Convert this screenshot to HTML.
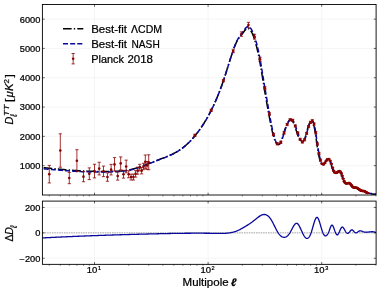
<!DOCTYPE html>
<html lang="en"><head><meta charset="utf-8"><title>CMB TT power spectrum</title>
<style>html,body{margin:0;padding:0;background:#fff;overflow:hidden}svg{display:block;will-change:transform}text{font-family:"Liberation Sans", sans-serif;fill:#000;stroke:#000;stroke-width:0.22px}</style></head><body>
<svg width="380" height="292" viewBox="0 0 380 292">
<rect x="0" y="0" width="380" height="292" fill="#fff"/>
<defs>
<clipPath id="ct"><rect x="42.40" y="4.45" width="333.70" height="190.55"/></clipPath>
<clipPath id="cb"><rect x="42.40" y="201.10" width="333.70" height="63.25"/></clipPath>
</defs>
<path d="M94.50 4.45 V195.00 M94.50 201.10 V264.35 M208.10 4.45 V195.00 M208.10 201.10 V264.35 M321.70 4.45 V195.00 M321.70 201.10 V264.35 M42.40 165.68 H376.10 M42.40 136.37 H376.10 M42.40 107.05 H376.10 M42.40 77.74 H376.10 M42.40 48.42 H376.10 M42.40 19.11 H376.10 M42.40 258.25 H376.10 M42.40 232.85 H376.10 M42.40 207.45 H376.10" fill="none" stroke="#eeeeee" stroke-width="0.6"/>
<path d="M42.40 232.85 H376.10" fill="none" stroke="#8e8e8e" stroke-width="0.8" stroke-dasharray="1.45 0.95"/>
<path d="M15.10 239.45 L15.46 239.43 L15.82 239.41 L16.18 239.38 L16.54 239.36 L16.90 239.34 L17.27 239.32 L17.63 239.30 L17.99 239.28 L18.35 239.26 L18.71 239.23 L19.07 239.21 L19.43 239.19 L19.79 239.17 L20.16 239.15 L20.52 239.13 L20.88 239.11 L21.24 239.09 L21.60 239.07 L21.96 239.05 L22.32 239.03 L22.69 239.00 L23.05 238.98 L23.41 238.96 L23.77 238.94 L24.13 238.92 L24.49 238.90 L24.85 238.88 L25.22 238.86 L25.58 238.84 L25.94 238.82 L26.30 238.80 L26.66 238.78 L27.02 238.76 L27.38 238.74 L27.74 238.72 L28.11 238.70 L28.47 238.68 L28.83 238.66 L29.19 238.64 L29.55 238.62 L29.91 238.60 L30.27 238.58 L30.64 238.56 L31.00 238.54 L31.36 238.52 L31.72 238.50 L32.08 238.48 L32.44 238.46 L32.80 238.44 L33.17 238.42 L33.53 238.40 L33.89 238.38 L34.25 238.36 L34.61 238.34 L34.97 238.32 L35.33 238.30 L35.69 238.28 L36.06 238.26 L36.42 238.24 L36.78 238.23 L37.14 238.21 L37.50 238.19 L37.86 238.17 L38.22 238.15 L38.59 238.13 L38.95 238.11 L39.31 238.09 L39.67 238.07 L40.03 238.05 L40.39 238.03 L40.75 238.02 L41.12 238.00 L41.48 237.98 L41.84 237.96 L42.20 237.94 L42.56 237.92 L42.92 237.90 L43.28 237.88 L43.64 237.87 L44.01 237.85 L44.37 237.83 L44.73 237.81 L45.09 237.79 L45.45 237.77 L45.81 237.76 L46.17 237.74 L46.54 237.72 L46.90 237.70 L47.26 237.68 L47.62 237.66 L47.98 237.65 L48.34 237.63 L48.70 237.61 L49.07 237.59 L49.43 237.57 L49.79 237.56 L50.15 237.54 L50.51 237.52 L50.87 237.50 L51.23 237.48 L51.59 237.47 L51.96 237.45 L52.32 237.43 L52.68 237.41 L53.04 237.40 L53.40 237.38 L53.76 237.36 L54.12 237.34 L54.49 237.33 L54.85 237.31 L55.21 237.29 L55.57 237.27 L55.93 237.26 L56.29 237.24 L56.65 237.22 L57.02 237.21 L57.38 237.19 L57.74 237.17 L58.10 237.15 L58.46 237.14 L58.82 237.12 L59.18 237.10 L59.54 237.09 L59.91 237.07 L60.27 237.05 L60.63 237.04 L60.99 237.02 L61.35 237.00 L61.71 236.99 L62.07 236.97 L62.44 236.95 L62.80 236.94 L63.16 236.92 L63.52 236.90 L63.88 236.89 L64.24 236.87 L64.60 236.85 L64.97 236.84 L65.33 236.82 L65.69 236.80 L66.05 236.79 L66.41 236.77 L66.77 236.76 L67.13 236.74 L67.49 236.72 L67.86 236.71 L68.22 236.69 L68.58 236.68 L68.94 236.66 L69.30 236.64 L69.66 236.63 L70.02 236.61 L70.39 236.60 L70.75 236.58 L71.11 236.56 L71.47 236.55 L71.83 236.53 L72.19 236.52 L72.55 236.50 L72.92 236.49 L73.28 236.47 L73.64 236.46 L74.00 236.44 L74.36 236.42 L74.72 236.41 L75.08 236.39 L75.44 236.38 L75.81 236.36 L76.17 236.35 L76.53 236.33 L76.89 236.32 L77.25 236.30 L77.61 236.29 L77.97 236.27 L78.34 236.26 L78.70 236.24 L79.06 236.23 L79.42 236.21 L79.78 236.20 L80.14 236.18 L80.50 236.17 L80.87 236.15 L81.23 236.14 L81.59 236.12 L81.95 236.11 L82.31 236.10 L82.67 236.08 L83.03 236.07 L83.39 236.05 L83.76 236.04 L84.12 236.02 L84.48 236.01 L84.84 235.99 L85.20 235.98 L85.56 235.97 L85.92 235.95 L86.29 235.94 L86.65 235.92 L87.01 235.91 L87.37 235.90 L87.73 235.88 L88.09 235.87 L88.45 235.85 L88.82 235.84 L89.18 235.83 L89.54 235.81 L89.90 235.80 L90.26 235.78 L90.62 235.77 L90.98 235.76 L91.34 235.74 L91.71 235.73 L92.07 235.72 L92.43 235.70 L92.79 235.69 L93.15 235.68 L93.51 235.66 L93.87 235.65 L94.24 235.64 L94.60 235.62 L94.96 235.61 L95.32 235.60 L95.68 235.58 L96.04 235.57 L96.40 235.56 L96.77 235.54 L97.13 235.53 L97.49 235.52 L97.85 235.50 L98.21 235.49 L98.57 235.48 L98.93 235.47 L99.29 235.45 L99.66 235.44 L100.02 235.43 L100.38 235.41 L100.74 235.40 L101.10 235.39 L101.46 235.38 L101.82 235.36 L102.19 235.35 L102.55 235.34 L102.91 235.33 L103.27 235.31 L103.63 235.30 L103.99 235.29 L104.35 235.28 L104.72 235.26 L105.08 235.25 L105.44 235.24 L105.80 235.23 L106.16 235.21 L106.52 235.20 L106.88 235.19 L107.24 235.18 L107.61 235.17 L107.97 235.15 L108.33 235.14 L108.69 235.13 L109.05 235.12 L109.41 235.11 L109.77 235.09 L110.14 235.08 L110.50 235.07 L110.86 235.06 L111.22 235.05 L111.58 235.04 L111.94 235.02 L112.30 235.01 L112.67 235.00 L113.03 234.99 L113.39 234.98 L113.75 234.97 L114.11 234.95 L114.47 234.94 L114.83 234.93 L115.19 234.92 L115.56 234.91 L115.92 234.90 L116.28 234.89 L116.64 234.87 L117.00 234.86 L117.36 234.85 L117.72 234.84 L118.09 234.83 L118.45 234.82 L118.81 234.81 L119.17 234.80 L119.53 234.79 L119.89 234.77 L120.25 234.76 L120.62 234.75 L120.98 234.74 L121.34 234.73 L121.70 234.72 L122.06 234.71 L122.42 234.70 L122.78 234.69 L123.14 234.68 L123.51 234.67 L123.87 234.65 L124.23 234.64 L124.59 234.63 L124.95 234.62 L125.31 234.61 L125.67 234.60 L126.04 234.59 L126.40 234.58 L126.76 234.57 L127.12 234.56 L127.48 234.55 L127.84 234.54 L128.20 234.53 L128.57 234.52 L128.93 234.51 L129.29 234.50 L129.65 234.49 L130.01 234.48 L130.37 234.47 L130.73 234.46 L131.09 234.45 L131.46 234.44 L131.82 234.43 L132.18 234.42 L132.54 234.41 L132.90 234.40 L133.26 234.38 L133.62 234.37 L133.99 234.36 L134.35 234.35 L134.71 234.34 L135.07 234.33 L135.43 234.33 L135.79 234.32 L136.15 234.31 L136.52 234.30 L136.88 234.29 L137.24 234.28 L137.60 234.27 L137.96 234.26 L138.32 234.25 L138.68 234.24 L139.04 234.23 L139.41 234.22 L139.77 234.21 L140.13 234.20 L140.49 234.19 L140.85 234.18 L141.21 234.17 L141.57 234.16 L141.94 234.15 L142.30 234.14 L142.66 234.13 L143.02 234.12 L143.38 234.11 L143.74 234.10 L144.10 234.09 L144.47 234.08 L144.83 234.07 L145.19 234.07 L145.55 234.06 L145.91 234.05 L146.27 234.04 L146.63 234.03 L146.99 234.02 L147.36 234.01 L147.72 234.00 L148.08 233.99 L148.44 233.98 L148.80 233.97 L149.16 233.96 L149.52 233.95 L149.89 233.95 L150.25 233.94 L150.61 233.93 L150.97 233.92 L151.33 233.91 L151.69 233.90 L152.05 233.89 L152.42 233.88 L152.78 233.87 L153.14 233.86 L153.50 233.86 L153.86 233.85 L154.22 233.84 L154.58 233.83 L154.95 233.82 L155.31 233.81 L155.67 233.80 L156.03 233.79 L156.39 233.79 L156.75 233.78 L157.11 233.77 L157.47 233.76 L157.84 233.75 L158.20 233.74 L158.56 233.74 L158.92 233.73 L159.28 233.72 L159.64 233.71 L160.00 233.70 L160.37 233.69 L160.73 233.69 L161.09 233.68 L161.45 233.67 L161.81 233.66 L162.17 233.65 L162.53 233.65 L162.90 233.64 L163.26 233.63 L163.62 233.62 L163.98 233.61 L164.34 233.61 L164.70 233.60 L165.06 233.59 L165.42 233.58 L165.79 233.58 L166.15 233.57 L166.51 233.56 L166.87 233.55 L167.23 233.55 L167.59 233.54 L167.95 233.53 L168.32 233.53 L168.68 233.52 L169.04 233.51 L169.40 233.51 L169.76 233.50 L170.12 233.49 L170.48 233.48 L170.85 233.48 L171.21 233.47 L171.57 233.46 L171.93 233.46 L172.29 233.45 L172.65 233.45 L173.01 233.44 L173.37 233.43 L173.74 233.43 L174.10 233.42 L174.46 233.41 L174.82 233.41 L175.18 233.40 L175.54 233.40 L175.90 233.39 L176.27 233.39 L176.63 233.38 L176.99 233.37 L177.35 233.37 L177.71 233.36 L178.07 233.36 L178.43 233.35 L178.80 233.35 L179.16 233.34 L179.52 233.34 L179.88 233.33 L180.24 233.33 L180.60 233.32 L180.96 233.32 L181.32 233.31 L181.69 233.31 L182.05 233.31 L182.41 233.30 L182.77 233.30 L183.13 233.29 L183.49 233.29 L183.85 233.28 L184.22 233.28 L184.58 233.28 L184.94 233.27 L185.30 233.27 L185.66 233.27 L186.02 233.26 L186.38 233.26 L186.75 233.26 L187.11 233.25 L187.47 233.25 L187.83 233.25 L188.19 233.24 L188.55 233.24 L188.91 233.24 L189.27 233.24 L189.64 233.23 L190.00 233.23 L190.36 233.23 L190.72 233.23 L191.08 233.22 L191.44 233.22 L191.80 233.22 L192.17 233.22 L192.53 233.22 L192.89 233.22 L193.25 233.21 L193.61 233.21 L193.97 233.21 L194.33 233.21 L194.70 233.21 L195.06 233.21 L195.42 233.21 L195.78 233.21 L196.14 233.21 L196.50 233.21 L196.86 233.21 L197.22 233.20 L197.59 233.20 L197.95 233.20 L198.31 233.20 L198.67 233.21 L199.03 233.21 L199.39 233.21 L199.75 233.21 L200.12 233.21 L200.48 233.21 L200.84 233.21 L201.20 233.21 L201.56 233.21 L201.92 233.21 L202.28 233.21 L202.65 233.22 L203.01 233.22 L203.37 233.22 L203.73 233.22 L204.09 233.22 L204.45 233.23 L204.81 233.23 L205.17 233.23 L205.54 233.23 L205.90 233.24 L206.26 233.24 L206.62 233.24 L206.98 233.25 L207.34 233.25 L207.70 233.25 L208.07 233.26 L208.43 233.26 L208.79 233.26 L209.15 233.27 L209.51 233.27 L209.87 233.28 L210.23 233.28 L210.60 233.29 L210.96 233.29 L211.32 233.30 L211.68 233.30 L212.04 233.31 L212.40 233.31 L212.76 233.32 L213.12 233.32 L213.49 233.33 L213.85 233.34 L214.21 233.34 L214.57 233.35 L214.93 233.36 L215.29 233.36 L215.65 233.37 L216.02 233.38 L216.38 233.38 L216.74 233.39 L217.10 233.40 L217.46 233.40 L217.82 233.41 L218.18 233.41 L218.55 233.42 L218.91 233.42 L219.27 233.43 L219.63 233.43 L219.99 233.43 L220.35 233.43 L220.71 233.43 L221.07 233.43 L221.44 233.43 L221.80 233.42 L222.16 233.42 L222.52 233.41 L222.88 233.40 L223.24 233.39 L223.60 233.38 L223.97 233.37 L224.33 233.35 L224.69 233.33 L225.05 233.31 L225.41 233.29 L225.77 233.27 L226.13 233.24 L226.50 233.21 L226.86 233.18 L227.22 233.14 L227.58 233.11 L227.94 233.07 L228.30 233.03 L228.66 232.98 L229.02 232.93 L229.39 232.88 L229.75 232.83 L230.11 232.77 L230.47 232.71 L230.83 232.64 L231.19 232.58 L231.55 232.50 L231.92 232.43 L232.28 232.35 L232.64 232.26 L233.00 232.18 L233.36 232.08 L233.72 231.99 L234.08 231.88 L234.45 231.78 L234.81 231.66 L235.17 231.55 L235.53 231.43 L235.89 231.30 L236.25 231.17 L236.61 231.03 L236.97 230.88 L237.34 230.73 L237.70 230.58 L238.06 230.42 L238.42 230.26 L238.78 230.09 L239.14 229.92 L239.50 229.74 L239.87 229.56 L240.23 229.37 L240.59 229.18 L240.95 228.99 L241.31 228.80 L241.67 228.60 L242.03 228.40 L242.40 228.19 L242.76 227.99 L243.12 227.78 L243.48 227.57 L243.84 227.36 L244.20 227.14 L244.56 226.93 L244.92 226.71 L245.29 226.49 L245.65 226.27 L246.01 226.05 L246.37 225.83 L246.73 225.60 L247.09 225.37 L247.45 225.14 L247.82 224.91 L248.18 224.68 L248.54 224.44 L248.90 224.20 L249.26 223.96 L249.62 223.72 L249.98 223.47 L250.35 223.23 L250.71 222.97 L251.07 222.72 L251.43 222.46 L251.79 222.21 L252.15 221.94 L252.51 221.68 L252.87 221.41 L253.24 221.14 L253.60 220.86 L253.96 220.59 L254.32 220.31 L254.68 220.02 L255.04 219.73 L255.40 219.44 L255.77 219.15 L256.13 218.86 L256.49 218.56 L256.85 218.27 L257.21 217.98 L257.57 217.70 L257.93 217.41 L258.30 217.14 L258.66 216.87 L259.02 216.61 L259.38 216.36 L259.74 216.12 L260.10 215.89 L260.46 215.67 L260.82 215.47 L261.19 215.29 L261.55 215.12 L261.91 214.96 L262.27 214.83 L262.63 214.72 L262.99 214.62 L263.35 214.55 L263.72 214.51 L264.08 214.48 L264.44 214.48 L264.80 214.51 L265.16 214.56 L265.52 214.64 L265.88 214.74 L266.25 214.88 L266.61 215.04 L266.97 215.23 L267.33 215.45 L267.69 215.70 L268.05 215.98 L268.41 216.29 L268.77 216.63 L269.14 217.01 L269.50 217.42 L269.86 217.86 L270.22 218.34 L270.58 218.85 L270.94 219.40 L271.30 219.98 L271.67 220.59 L272.03 221.23 L272.39 221.89 L272.75 222.57 L273.11 223.26 L273.47 223.97 L273.83 224.69 L274.20 225.41 L274.56 226.14 L274.92 226.86 L275.28 227.58 L275.64 228.30 L276.00 229.00 L276.36 229.69 L276.72 230.36 L277.09 231.01 L277.45 231.64 L277.81 232.24 L278.17 232.80 L278.53 233.34 L278.89 233.84 L279.25 234.31 L279.62 234.74 L279.98 235.14 L280.34 235.50 L280.70 235.84 L281.06 236.13 L281.42 236.40 L281.78 236.63 L282.15 236.83 L282.51 236.99 L282.87 237.12 L283.23 237.22 L283.59 237.29 L283.95 237.32 L284.31 237.32 L284.67 237.29 L285.04 237.22 L285.40 237.12 L285.76 236.99 L286.12 236.82 L286.48 236.62 L286.84 236.38 L287.20 236.11 L287.57 235.80 L287.93 235.45 L288.29 235.06 L288.65 234.64 L289.01 234.17 L289.37 233.66 L289.73 233.12 L290.10 232.53 L290.46 231.90 L290.82 231.25 L291.18 230.57 L291.54 229.88 L291.90 229.18 L292.26 228.49 L292.62 227.80 L292.99 227.14 L293.35 226.50 L293.71 225.90 L294.07 225.34 L294.43 224.83 L294.79 224.38 L295.15 223.99 L295.52 223.68 L295.88 223.45 L296.24 223.32 L296.60 223.28 L296.96 223.34 L297.32 223.52 L297.68 223.80 L298.05 224.18 L298.41 224.64 L298.77 225.17 L299.13 225.77 L299.49 226.42 L299.85 227.13 L300.21 227.87 L300.57 228.64 L300.94 229.43 L301.30 230.23 L301.66 231.03 L302.02 231.82 L302.38 232.60 L302.74 233.35 L303.10 234.07 L303.47 234.75 L303.83 235.39 L304.19 235.99 L304.55 236.53 L304.91 237.01 L305.27 237.44 L305.63 237.79 L306.00 238.08 L306.36 238.29 L306.72 238.42 L307.08 238.47 L307.44 238.42 L307.80 238.29 L308.16 238.07 L308.52 237.76 L308.89 237.36 L309.25 236.87 L309.61 236.28 L309.97 235.60 L310.33 234.82 L310.69 233.95 L311.05 232.98 L311.42 231.91 L311.78 230.77 L312.14 229.56 L312.50 228.31 L312.86 227.04 L313.22 225.76 L313.58 224.51 L313.95 223.30 L314.31 222.14 L314.67 221.06 L315.03 220.08 L315.39 219.22 L315.75 218.50 L316.11 217.93 L316.47 217.55 L316.84 217.36 L317.20 217.39 L317.56 217.64 L317.92 218.10 L318.28 218.73 L318.64 219.53 L319.00 220.46 L319.37 221.50 L319.73 222.63 L320.09 223.83 L320.45 225.07 L320.81 226.33 L321.17 227.58 L321.53 228.82 L321.90 230.00 L322.26 231.12 L322.62 232.13 L322.98 233.04 L323.34 233.81 L323.70 234.45 L324.06 234.97 L324.42 235.36 L324.79 235.64 L325.15 235.80 L325.51 235.86 L325.87 235.81 L326.23 235.67 L326.59 235.42 L326.95 235.08 L327.32 234.64 L327.68 234.10 L328.04 233.47 L328.40 232.74 L328.76 231.92 L329.12 231.01 L329.48 230.02 L329.85 229.00 L330.21 228.01 L330.57 227.09 L330.93 226.28 L331.29 225.65 L331.65 225.24 L332.01 225.10 L332.37 225.26 L332.74 225.69 L333.10 226.33 L333.46 227.15 L333.82 228.08 L334.18 229.09 L334.54 230.12 L334.90 231.13 L335.27 232.07 L335.63 232.93 L335.99 233.66 L336.35 234.25 L336.71 234.66 L337.07 234.86 L337.43 234.84 L337.80 234.59 L338.16 234.16 L338.52 233.57 L338.88 232.87 L339.24 232.10 L339.60 231.27 L339.96 230.44 L340.32 229.64 L340.69 228.89 L341.05 228.22 L341.41 227.67 L341.77 227.27 L342.13 227.04 L342.49 227.02 L342.85 227.21 L343.22 227.56 L343.58 228.04 L343.94 228.62 L344.30 229.27 L344.66 229.94 L345.02 230.60 L345.38 231.23 L345.75 231.81 L346.11 232.31 L346.47 232.73 L346.83 233.05 L347.19 233.27 L347.55 233.36 L347.91 233.31 L348.27 233.14 L348.64 232.87 L349.00 232.52 L349.36 232.12 L349.72 231.68 L350.08 231.23 L350.44 230.79 L350.80 230.40 L351.17 230.08 L351.53 229.87 L351.89 229.80 L352.25 229.89 L352.61 230.11 L352.97 230.44 L353.33 230.82 L353.70 231.24 L354.06 231.64 L354.42 232.01 L354.78 232.33 L355.14 232.58 L355.50 232.75 L355.86 232.84 L356.22 232.83 L356.59 232.73 L356.95 232.55 L357.31 232.33 L357.67 232.08 L358.03 231.81 L358.39 231.56 L358.75 231.32 L359.12 231.12 L359.48 230.96 L359.84 230.85 L360.20 230.80 L360.56 230.82 L360.92 230.88 L361.28 230.99 L361.65 231.12 L362.01 231.28 L362.37 231.44 L362.73 231.60 L363.09 231.74 L363.45 231.86 L363.81 231.97 L364.17 232.05 L364.54 232.12 L364.90 232.17 L365.26 232.20 L365.62 232.22 L365.98 232.23 L366.34 232.23 L366.70 232.21 L367.07 232.19 L367.43 232.16 L367.79 232.13 L368.15 232.09 L368.51 232.05 L368.87 232.00 L369.23 231.96 L369.60 231.91 L369.96 231.87 L370.32 231.83 L370.68 231.80 L371.04 231.77 L371.40 231.74 L371.76 231.73 L372.12 231.73 L372.49 231.74 L372.85 231.76 L373.21 231.79 L373.57 231.84 L373.93 231.91 L374.29 231.99 L374.65 232.09 L375.02 232.22 L375.38 232.36 L375.74 232.53 L376.10 232.72" fill="none" stroke="#08089c" stroke-width="1.3" stroke-linejoin="round" clip-path="url(#cb)"/>
<g clip-path="url(#ct)" fill="none" stroke-linejoin="round">
<path d="M15.10 165.33 L15.46 165.36 L15.82 165.38 L16.18 165.40 L16.54 165.43 L16.90 165.45 L17.27 165.47 L17.63 165.50 L17.99 165.52 L18.35 165.54 L18.71 165.57 L19.07 165.59 L19.43 165.62 L19.79 165.64 L20.16 165.67 L20.52 165.70 L20.88 165.72 L21.24 165.75 L21.60 165.77 L21.96 165.80 L22.32 165.83 L22.69 165.86 L23.05 165.88 L23.41 165.91 L23.77 165.94 L24.13 165.97 L24.49 165.99 L24.85 166.02 L25.22 166.05 L25.58 166.08 L25.94 166.11 L26.30 166.14 L26.66 166.17 L27.02 166.20 L27.38 166.22 L27.74 166.25 L28.11 166.28 L28.47 166.31 L28.83 166.34 L29.19 166.37 L29.55 166.41 L29.91 166.44 L30.27 166.47 L30.64 166.50 L31.00 166.53 L31.36 166.56 L31.72 166.59 L32.08 166.62 L32.44 166.65 L32.80 166.69 L33.17 166.72 L33.53 166.75 L33.89 166.78 L34.25 166.81 L34.61 166.85 L34.97 166.88 L35.33 166.91 L35.69 166.94 L36.06 166.98 L36.42 167.01 L36.78 167.04 L37.14 167.08 L37.50 167.11 L37.86 167.14 L38.22 167.17 L38.59 167.21 L38.95 167.24 L39.31 167.28 L39.67 167.31 L40.03 167.34 L40.39 167.38 L40.75 167.41 L41.12 167.44 L41.48 167.48 L41.84 167.51 L42.20 167.55 L42.56 167.58 L42.92 167.61 L43.28 167.65 L43.64 167.68 L44.01 167.72 L44.37 167.75 L44.73 167.79 L45.09 167.82 L45.45 167.85 L45.81 167.89 L46.17 167.92 L46.54 167.96 L46.90 167.99 L47.26 168.03 L47.62 168.06 L47.98 168.10 L48.34 168.13 L48.70 168.16 L49.07 168.20 L49.43 168.23 L49.79 168.27 L50.15 168.30 L50.51 168.34 L50.87 168.37 L51.23 168.41 L51.59 168.44 L51.96 168.48 L52.32 168.51 L52.68 168.54 L53.04 168.58 L53.40 168.61 L53.76 168.65 L54.12 168.68 L54.49 168.72 L54.85 168.75 L55.21 168.78 L55.57 168.82 L55.93 168.85 L56.29 168.89 L56.65 168.92 L57.02 168.95 L57.38 168.99 L57.74 169.02 L58.10 169.06 L58.46 169.09 L58.82 169.12 L59.18 169.16 L59.54 169.19 L59.91 169.22 L60.27 169.26 L60.63 169.29 L60.99 169.32 L61.35 169.35 L61.71 169.39 L62.07 169.42 L62.44 169.45 L62.80 169.49 L63.16 169.52 L63.52 169.55 L63.88 169.58 L64.24 169.61 L64.60 169.65 L64.97 169.68 L65.33 169.71 L65.69 169.74 L66.05 169.77 L66.41 169.80 L66.77 169.83 L67.13 169.86 L67.49 169.89 L67.86 169.92 L68.22 169.95 L68.58 169.98 L68.94 170.01 L69.30 170.04 L69.66 170.07 L70.02 170.10 L70.39 170.13 L70.75 170.16 L71.11 170.19 L71.47 170.21 L71.83 170.24 L72.19 170.27 L72.55 170.30 L72.92 170.32 L73.28 170.35 L73.64 170.38 L74.00 170.40 L74.36 170.43 L74.72 170.45 L75.08 170.48 L75.44 170.50 L75.81 170.53 L76.17 170.55 L76.53 170.58 L76.89 170.60 L77.25 170.62 L77.61 170.65 L77.97 170.67 L78.34 170.69 L78.70 170.71 L79.06 170.73 L79.42 170.76 L79.78 170.78 L80.14 170.80 L80.50 170.82 L80.87 170.84 L81.23 170.86 L81.59 170.88 L81.95 170.90 L82.31 170.91 L82.67 170.93 L83.03 170.95 L83.39 170.97 L83.76 170.98 L84.12 171.00 L84.48 171.02 L84.84 171.03 L85.20 171.05 L85.56 171.07 L85.92 171.08 L86.29 171.10 L86.65 171.11 L87.01 171.13 L87.37 171.14 L87.73 171.15 L88.09 171.17 L88.45 171.18 L88.82 171.19 L89.18 171.20 L89.54 171.22 L89.90 171.23 L90.26 171.24 L90.62 171.25 L90.98 171.26 L91.34 171.27 L91.71 171.28 L92.07 171.29 L92.43 171.30 L92.79 171.31 L93.15 171.32 L93.51 171.33 L93.87 171.33 L94.24 171.34 L94.60 171.35 L94.96 171.36 L95.32 171.36 L95.68 171.37 L96.04 171.37 L96.40 171.38 L96.77 171.39 L97.13 171.39 L97.49 171.40 L97.85 171.40 L98.21 171.40 L98.57 171.41 L98.93 171.41 L99.29 171.41 L99.66 171.42 L100.02 171.42 L100.38 171.42 L100.74 171.42 L101.10 171.43 L101.46 171.43 L101.82 171.43 L102.19 171.43 L102.55 171.43 L102.91 171.43 L103.27 171.43 L103.63 171.43 L103.99 171.43 L104.35 171.43 L104.72 171.43 L105.08 171.43 L105.44 171.42 L105.80 171.42 L106.16 171.42 L106.52 171.42 L106.88 171.41 L107.24 171.41 L107.61 171.41 L107.97 171.40 L108.33 171.40 L108.69 171.40 L109.05 171.39 L109.41 171.39 L109.77 171.38 L110.14 171.38 L110.50 171.37 L110.86 171.37 L111.22 171.36 L111.58 171.35 L111.94 171.35 L112.30 171.34 L112.67 171.33 L113.03 171.33 L113.39 171.32 L113.75 171.31 L114.11 171.30 L114.47 171.29 L114.83 171.28 L115.19 171.27 L115.56 171.26 L115.92 171.24 L116.28 171.23 L116.64 171.22 L117.00 171.20 L117.36 171.18 L117.72 171.17 L118.09 171.15 L118.45 171.13 L118.81 171.11 L119.17 171.09 L119.53 171.07 L119.89 171.04 L120.25 171.02 L120.62 170.99 L120.98 170.96 L121.34 170.93 L121.70 170.90 L122.06 170.87 L122.42 170.84 L122.78 170.80 L123.14 170.76 L123.51 170.73 L123.87 170.68 L124.23 170.64 L124.59 170.60 L124.95 170.55 L125.31 170.51 L125.67 170.46 L126.04 170.40 L126.40 170.35 L126.76 170.30 L127.12 170.24 L127.48 170.18 L127.84 170.12 L128.20 170.05 L128.57 169.99 L128.93 169.92 L129.29 169.85 L129.65 169.77 L130.01 169.70 L130.37 169.62 L130.73 169.54 L131.09 169.46 L131.46 169.38 L131.82 169.29 L132.18 169.20 L132.54 169.11 L132.90 169.02 L133.26 168.93 L133.62 168.83 L133.99 168.73 L134.35 168.63 L134.71 168.53 L135.07 168.43 L135.43 168.32 L135.79 168.22 L136.15 168.11 L136.52 168.00 L136.88 167.89 L137.24 167.78 L137.60 167.66 L137.96 167.55 L138.32 167.43 L138.68 167.31 L139.04 167.19 L139.41 167.07 L139.77 166.95 L140.13 166.82 L140.49 166.70 L140.85 166.57 L141.21 166.44 L141.57 166.32 L141.94 166.19 L142.30 166.05 L142.66 165.92 L143.02 165.79 L143.38 165.66 L143.74 165.52 L144.10 165.39 L144.47 165.25 L144.83 165.11 L145.19 164.98 L145.55 164.84 L145.91 164.70 L146.27 164.56 L146.63 164.42 L146.99 164.28 L147.36 164.14 L147.72 164.00 L148.08 163.86 L148.44 163.72 L148.80 163.58 L149.16 163.43 L149.52 163.29 L149.89 163.15 L150.25 163.01 L150.61 162.87 L150.97 162.72 L151.33 162.58 L151.69 162.44 L152.05 162.30 L152.42 162.16 L152.78 162.02 L153.14 161.88 L153.50 161.74 L153.86 161.60 L154.22 161.46 L154.58 161.32 L154.95 161.18 L155.31 161.04 L155.67 160.90 L156.03 160.76 L156.39 160.62 L156.75 160.48 L157.11 160.34 L157.47 160.20 L157.84 160.06 L158.20 159.92 L158.56 159.78 L158.92 159.64 L159.28 159.51 L159.64 159.37 L160.00 159.23 L160.37 159.09 L160.73 158.95 L161.09 158.81 L161.45 158.67 L161.81 158.53 L162.17 158.39 L162.53 158.25 L162.90 158.11 L163.26 157.98 L163.62 157.84 L163.98 157.70 L164.34 157.56 L164.70 157.41 L165.06 157.27 L165.42 157.13 L165.79 156.99 L166.15 156.84 L166.51 156.70 L166.87 156.55 L167.23 156.41 L167.59 156.26 L167.95 156.11 L168.32 155.96 L168.68 155.81 L169.04 155.65 L169.40 155.50 L169.76 155.34 L170.12 155.18 L170.48 155.02 L170.85 154.86 L171.21 154.69 L171.57 154.53 L171.93 154.36 L172.29 154.19 L172.65 154.01 L173.01 153.83 L173.37 153.65 L173.74 153.47 L174.10 153.29 L174.46 153.10 L174.82 152.91 L175.18 152.71 L175.54 152.51 L175.90 152.31 L176.27 152.11 L176.63 151.90 L176.99 151.69 L177.35 151.48 L177.71 151.26 L178.07 151.04 L178.43 150.81 L178.80 150.58 L179.16 150.35 L179.52 150.11 L179.88 149.87 L180.24 149.63 L180.60 149.38 L180.96 149.13 L181.32 148.87 L181.69 148.61 L182.05 148.34 L182.41 148.07 L182.77 147.80 L183.13 147.52 L183.49 147.23 L183.85 146.95 L184.22 146.65 L184.58 146.35 L184.94 146.05 L185.30 145.74 L185.66 145.43 L186.02 145.12 L186.38 144.79 L186.75 144.47 L187.11 144.14 L187.47 143.80 L187.83 143.46 L188.19 143.12 L188.55 142.77 L188.91 142.41 L189.27 142.05 L189.64 141.69 L190.00 141.32 L190.36 140.95 L190.72 140.57 L191.08 140.18 L191.44 139.79 L191.80 139.40 L192.17 139.00 L192.53 138.60 L192.89 138.19 L193.25 137.78 L193.61 137.36 L193.97 136.94 L194.33 136.51 L194.70 136.08 L195.06 135.64 L195.42 135.19 L195.78 134.75 L196.14 134.29 L196.50 133.83 L196.86 133.37 L197.22 132.90 L197.59 132.43 L197.95 131.95 L198.31 131.47 L198.67 130.98 L199.03 130.48 L199.39 129.98 L199.75 129.48 L200.12 128.97 L200.48 128.45 L200.84 127.93 L201.20 127.41 L201.56 126.88 L201.92 126.34 L202.28 125.80 L202.65 125.25 L203.01 124.69 L203.37 124.13 L203.73 123.56 L204.09 122.99 L204.45 122.41 L204.81 121.83 L205.17 121.23 L205.54 120.64 L205.90 120.03 L206.26 119.42 L206.62 118.80 L206.98 118.18 L207.34 117.54 L207.70 116.90 L208.07 116.26 L208.43 115.60 L208.79 114.94 L209.15 114.27 L209.51 113.60 L209.87 112.91 L210.23 112.22 L210.60 111.52 L210.96 110.81 L211.32 110.10 L211.68 109.37 L212.04 108.64 L212.40 107.90 L212.76 107.15 L213.12 106.39 L213.49 105.62 L213.85 104.85 L214.21 104.06 L214.57 103.27 L214.93 102.47 L215.29 101.66 L215.65 100.84 L216.02 100.01 L216.38 99.17 L216.74 98.32 L217.10 97.46 L217.46 96.59 L217.82 95.71 L218.18 94.82 L218.55 93.92 L218.91 93.01 L219.27 92.09 L219.63 91.16 L219.99 90.21 L220.35 89.26 L220.71 88.29 L221.07 87.31 L221.44 86.32 L221.80 85.32 L222.16 84.31 L222.52 83.28 L222.88 82.24 L223.24 81.19 L223.60 80.12 L223.97 79.04 L224.33 77.95 L224.69 76.85 L225.05 75.73 L225.41 74.61 L225.77 73.47 L226.13 72.33 L226.50 71.18 L226.86 70.03 L227.22 68.87 L227.58 67.72 L227.94 66.56 L228.30 65.40 L228.66 64.24 L229.02 63.08 L229.39 61.93 L229.75 60.78 L230.11 59.64 L230.47 58.50 L230.83 57.38 L231.19 56.26 L231.55 55.15 L231.92 54.06 L232.28 52.98 L232.64 51.92 L233.00 50.88 L233.36 49.85 L233.72 48.85 L234.08 47.88 L234.45 46.93 L234.81 46.01 L235.17 45.12 L235.53 44.26 L235.89 43.44 L236.25 42.66 L236.61 41.91 L236.97 41.21 L237.34 40.54 L237.70 39.92 L238.06 39.33 L238.42 38.78 L238.78 38.26 L239.14 37.76 L239.50 37.28 L239.87 36.81 L240.23 36.36 L240.59 35.92 L240.95 35.48 L241.31 35.04 L241.67 34.59 L242.03 34.14 L242.40 33.67 L242.76 33.20 L243.12 32.71 L243.48 32.22 L243.84 31.74 L244.20 31.27 L244.56 30.82 L244.92 30.38 L245.29 29.98 L245.65 29.61 L246.01 29.28 L246.37 29.00 L246.73 28.78 L247.09 28.61 L247.45 28.51 L247.82 28.47 L248.18 28.51 L248.54 28.62 L248.90 28.79 L249.26 29.04 L249.62 29.34 L249.98 29.72 L250.35 30.15 L250.71 30.65 L251.07 31.22 L251.43 31.84 L251.79 32.52 L252.15 33.26 L252.51 34.06 L252.87 34.92 L253.24 35.83 L253.60 36.79 L253.96 37.81 L254.32 38.88 L254.68 40.00 L255.04 41.17 L255.40 42.39 L255.77 43.65 L256.13 44.97 L256.49 46.35 L256.85 47.78 L257.21 49.26 L257.57 50.80 L257.93 52.40 L258.30 54.06 L258.66 55.78 L259.02 57.57 L259.38 59.42 L259.74 61.33 L260.10 63.31 L260.46 65.35 L260.82 67.45 L261.19 69.59 L261.55 71.77 L261.91 73.98 L262.27 76.20 L262.63 78.44 L262.99 80.68 L263.35 82.92 L263.72 85.14 L264.08 87.33 L264.44 89.50 L264.80 91.64 L265.16 93.76 L265.52 95.86 L265.88 97.93 L266.25 99.98 L266.61 102.02 L266.97 104.04 L267.33 106.04 L267.69 108.04 L268.05 110.02 L268.41 111.99 L268.77 113.95 L269.14 115.90 L269.50 117.83 L269.86 119.74 L270.22 121.61 L270.58 123.44 L270.94 125.23 L271.30 126.98 L271.67 128.66 L272.03 130.29 L272.39 131.85 L272.75 133.34 L273.11 134.75 L273.47 136.08 L273.83 137.33 L274.20 138.49 L274.56 139.56 L274.92 140.53 L275.28 141.40 L275.64 142.16 L276.00 142.81 L276.36 143.35 L276.72 143.79 L277.09 144.12 L277.45 144.34 L277.81 144.47 L278.17 144.49 L278.53 144.43 L278.89 144.27 L279.25 144.01 L279.62 143.66 L279.98 143.21 L280.34 142.65 L280.70 142.00 L281.06 141.23 L281.42 140.37 L281.78 139.40 L282.15 138.36 L282.51 137.26 L282.87 136.10 L283.23 134.92 L283.59 133.73 L283.95 132.54 L284.31 131.38 L284.67 130.25 L285.04 129.16 L285.40 128.13 L285.76 127.14 L286.12 126.20 L286.48 125.30 L286.84 124.47 L287.20 123.68 L287.57 122.95 L287.93 122.27 L288.29 121.66 L288.65 121.11 L289.01 120.64 L289.37 120.26 L289.73 119.96 L290.10 119.76 L290.46 119.65 L290.82 119.66 L291.18 119.77 L291.54 119.99 L291.90 120.32 L292.26 120.76 L292.62 121.28 L292.99 121.90 L293.35 122.60 L293.71 123.39 L294.07 124.25 L294.43 125.18 L294.79 126.17 L295.15 127.20 L295.52 128.27 L295.88 129.36 L296.24 130.46 L296.60 131.56 L296.96 132.65 L297.32 133.71 L297.68 134.74 L298.05 135.74 L298.41 136.68 L298.77 137.57 L299.13 138.40 L299.49 139.16 L299.85 139.84 L300.21 140.43 L300.57 140.93 L300.94 141.33 L301.30 141.64 L301.66 141.83 L302.02 141.91 L302.38 141.87 L302.74 141.71 L303.10 141.42 L303.47 140.99 L303.83 140.43 L304.19 139.75 L304.55 138.94 L304.91 138.01 L305.27 136.97 L305.63 135.82 L306.00 134.58 L306.36 133.27 L306.72 131.93 L307.08 130.58 L307.44 129.26 L307.80 127.99 L308.16 126.80 L308.52 125.72 L308.89 124.75 L309.25 123.90 L309.61 123.15 L309.97 122.52 L310.33 122.01 L310.69 121.60 L311.05 121.31 L311.42 121.17 L311.78 121.19 L312.14 121.41 L312.50 121.84 L312.86 122.50 L313.22 123.40 L313.58 124.54 L313.95 125.92 L314.31 127.54 L314.67 129.37 L315.03 131.41 L315.39 133.64 L315.75 136.02 L316.11 138.52 L316.47 141.07 L316.84 143.62 L317.20 146.11 L317.56 148.49 L317.92 150.72 L318.28 152.79 L318.64 154.70 L319.00 156.44 L319.37 158.02 L319.73 159.43 L320.09 160.68 L320.45 161.76 L320.81 162.66 L321.17 163.40 L321.53 163.95 L321.90 164.32 L322.26 164.52 L322.62 164.57 L322.98 164.47 L323.34 164.26 L323.70 163.94 L324.06 163.53 L324.42 163.04 L324.79 162.49 L325.15 161.90 L325.51 161.28 L325.87 160.67 L326.23 160.10 L326.59 159.59 L326.95 159.17 L327.32 158.87 L327.68 158.70 L328.04 158.67 L328.40 158.80 L328.76 159.10 L329.12 159.58 L329.48 160.22 L329.85 161.01 L330.21 161.95 L330.57 163.00 L330.93 164.15 L331.29 165.34 L331.65 166.54 L332.01 167.71 L332.37 168.80 L332.74 169.80 L333.10 170.69 L333.46 171.46 L333.82 172.09 L334.18 172.57 L334.54 172.88 L334.90 173.04 L335.27 173.07 L335.63 172.99 L335.99 172.82 L336.35 172.58 L336.71 172.30 L337.07 172.02 L337.43 171.75 L337.80 171.53 L338.16 171.35 L338.52 171.24 L338.88 171.21 L339.24 171.29 L339.60 171.49 L339.96 171.83 L340.32 172.32 L340.69 172.97 L341.05 173.77 L341.41 174.69 L341.77 175.70 L342.13 176.77 L342.49 177.87 L342.85 178.93 L343.22 179.95 L343.58 180.87 L343.94 181.67 L344.30 182.33 L344.66 182.86 L345.02 183.25 L345.38 183.53 L345.75 183.68 L346.11 183.72 L346.47 183.67 L346.83 183.55 L347.19 183.40 L347.55 183.23 L347.91 183.08 L348.27 182.99 L348.64 182.98 L349.00 183.09 L349.36 183.30 L349.72 183.61 L350.08 184.00 L350.44 184.46 L350.80 184.96 L351.17 185.49 L351.53 186.04 L351.89 186.58 L352.25 187.06 L352.61 187.46 L352.97 187.76 L353.33 187.95 L353.70 188.03 L354.06 188.02 L354.42 187.96 L354.78 187.85 L355.14 187.73 L355.50 187.62 L355.86 187.57 L356.22 187.61 L356.59 187.75 L356.95 187.97 L357.31 188.24 L357.67 188.55 L358.03 188.87 L358.39 189.20 L358.75 189.53 L359.12 189.84 L359.48 190.13 L359.84 190.39 L360.20 190.62 L360.56 190.82 L360.92 190.99 L361.28 191.12 L361.65 191.22 L362.01 191.29 L362.37 191.32 L362.73 191.33 L363.09 191.30 L363.45 191.25 L363.81 191.23 L364.17 191.27 L364.54 191.40 L364.90 191.58 L365.26 191.81 L365.62 192.06 L365.98 192.31 L366.34 192.54 L366.70 192.76 L367.07 192.94 L367.43 193.08 L367.79 193.20 L368.15 193.29 L368.51 193.35 L368.87 193.41 L369.23 193.46 L369.60 193.51 L369.96 193.56 L370.32 193.61 L370.68 193.67 L371.04 193.73 L371.40 193.80 L371.76 193.86 L372.12 193.92 L372.49 193.99 L372.85 194.05 L373.21 194.10 L373.57 194.15 L373.93 194.20 L374.29 194.24 L374.65 194.27 L375.02 194.30 L375.38 194.31 L375.74 194.32 L376.10 194.31" stroke="#000" stroke-width="1.50" stroke-dasharray="8.64 2.16 1.35 2.16"/>
<path d="M15.10 166.86 L15.46 166.87 L15.82 166.89 L16.18 166.91 L16.54 166.93 L16.90 166.95 L17.27 166.97 L17.63 166.98 L17.99 167.00 L18.35 167.02 L18.71 167.04 L19.07 167.06 L19.43 167.08 L19.79 167.10 L20.16 167.12 L20.52 167.15 L20.88 167.17 L21.24 167.19 L21.60 167.21 L21.96 167.23 L22.32 167.25 L22.69 167.28 L23.05 167.30 L23.41 167.32 L23.77 167.34 L24.13 167.37 L24.49 167.39 L24.85 167.41 L25.22 167.44 L25.58 167.46 L25.94 167.49 L26.30 167.51 L26.66 167.53 L27.02 167.56 L27.38 167.58 L27.74 167.61 L28.11 167.63 L28.47 167.66 L28.83 167.69 L29.19 167.71 L29.55 167.74 L29.91 167.76 L30.27 167.79 L30.64 167.82 L31.00 167.84 L31.36 167.87 L31.72 167.89 L32.08 167.92 L32.44 167.95 L32.80 167.98 L33.17 168.00 L33.53 168.03 L33.89 168.06 L34.25 168.09 L34.61 168.11 L34.97 168.14 L35.33 168.17 L35.69 168.20 L36.06 168.23 L36.42 168.25 L36.78 168.28 L37.14 168.31 L37.50 168.34 L37.86 168.37 L38.22 168.40 L38.59 168.43 L38.95 168.46 L39.31 168.49 L39.67 168.51 L40.03 168.54 L40.39 168.57 L40.75 168.60 L41.12 168.63 L41.48 168.66 L41.84 168.69 L42.20 168.72 L42.56 168.75 L42.92 168.78 L43.28 168.81 L43.64 168.84 L44.01 168.87 L44.37 168.90 L44.73 168.93 L45.09 168.96 L45.45 168.99 L45.81 169.02 L46.17 169.05 L46.54 169.08 L46.90 169.11 L47.26 169.14 L47.62 169.17 L47.98 169.20 L48.34 169.23 L48.70 169.26 L49.07 169.29 L49.43 169.32 L49.79 169.35 L50.15 169.39 L50.51 169.42 L50.87 169.45 L51.23 169.48 L51.59 169.51 L51.96 169.54 L52.32 169.57 L52.68 169.60 L53.04 169.63 L53.40 169.66 L53.76 169.69 L54.12 169.72 L54.49 169.75 L54.85 169.78 L55.21 169.81 L55.57 169.84 L55.93 169.87 L56.29 169.90 L56.65 169.93 L57.02 169.96 L57.38 169.99 L57.74 170.02 L58.10 170.05 L58.46 170.08 L58.82 170.11 L59.18 170.14 L59.54 170.17 L59.91 170.20 L60.27 170.23 L60.63 170.25 L60.99 170.28 L61.35 170.31 L61.71 170.34 L62.07 170.37 L62.44 170.40 L62.80 170.43 L63.16 170.46 L63.52 170.49 L63.88 170.51 L64.24 170.54 L64.60 170.57 L64.97 170.60 L65.33 170.62 L65.69 170.65 L66.05 170.68 L66.41 170.71 L66.77 170.73 L67.13 170.76 L67.49 170.79 L67.86 170.81 L68.22 170.84 L68.58 170.87 L68.94 170.89 L69.30 170.92 L69.66 170.94 L70.02 170.97 L70.39 170.99 L70.75 171.02 L71.11 171.04 L71.47 171.07 L71.83 171.09 L72.19 171.12 L72.55 171.14 L72.92 171.16 L73.28 171.19 L73.64 171.21 L74.00 171.23 L74.36 171.25 L74.72 171.28 L75.08 171.30 L75.44 171.32 L75.81 171.34 L76.17 171.36 L76.53 171.38 L76.89 171.40 L77.25 171.42 L77.61 171.44 L77.97 171.46 L78.34 171.48 L78.70 171.50 L79.06 171.51 L79.42 171.53 L79.78 171.55 L80.14 171.57 L80.50 171.58 L80.87 171.60 L81.23 171.62 L81.59 171.63 L81.95 171.65 L82.31 171.66 L82.67 171.68 L83.03 171.69 L83.39 171.71 L83.76 171.72 L84.12 171.73 L84.48 171.75 L84.84 171.76 L85.20 171.77 L85.56 171.79 L85.92 171.80 L86.29 171.81 L86.65 171.82 L87.01 171.83 L87.37 171.84 L87.73 171.85 L88.09 171.86 L88.45 171.87 L88.82 171.88 L89.18 171.89 L89.54 171.90 L89.90 171.91 L90.26 171.92 L90.62 171.92 L90.98 171.93 L91.34 171.94 L91.71 171.95 L92.07 171.95 L92.43 171.96 L92.79 171.96 L93.15 171.97 L93.51 171.97 L93.87 171.98 L94.24 171.98 L94.60 171.99 L94.96 171.99 L95.32 172.00 L95.68 172.00 L96.04 172.00 L96.40 172.01 L96.77 172.01 L97.13 172.01 L97.49 172.01 L97.85 172.01 L98.21 172.01 L98.57 172.01 L98.93 172.02 L99.29 172.02 L99.66 172.02 L100.02 172.02 L100.38 172.01 L100.74 172.01 L101.10 172.01 L101.46 172.01 L101.82 172.01 L102.19 172.01 L102.55 172.00 L102.91 172.00 L103.27 172.00 L103.63 172.00 L103.99 171.99 L104.35 171.99 L104.72 171.98 L105.08 171.98 L105.44 171.98 L105.80 171.97 L106.16 171.97 L106.52 171.96 L106.88 171.95 L107.24 171.95 L107.61 171.94 L107.97 171.94 L108.33 171.93 L108.69 171.92 L109.05 171.92 L109.41 171.91 L109.77 171.90 L110.14 171.89 L110.50 171.88 L110.86 171.88 L111.22 171.87 L111.58 171.86 L111.94 171.85 L112.30 171.84 L112.67 171.83 L113.03 171.82 L113.39 171.81 L113.75 171.80 L114.11 171.79 L114.47 171.77 L114.83 171.76 L115.19 171.75 L115.56 171.73 L115.92 171.72 L116.28 171.70 L116.64 171.68 L117.00 171.67 L117.36 171.65 L117.72 171.63 L118.09 171.61 L118.45 171.58 L118.81 171.56 L119.17 171.54 L119.53 171.51 L119.89 171.49 L120.25 171.46 L120.62 171.43 L120.98 171.40 L121.34 171.37 L121.70 171.33 L122.06 171.30 L122.42 171.26 L122.78 171.22 L123.14 171.19 L123.51 171.14 L123.87 171.10 L124.23 171.06 L124.59 171.01 L124.95 170.96 L125.31 170.91 L125.67 170.86 L126.04 170.81 L126.40 170.75 L126.76 170.69 L127.12 170.63 L127.48 170.57 L127.84 170.51 L128.20 170.44 L128.57 170.37 L128.93 170.30 L129.29 170.23 L129.65 170.15 L130.01 170.07 L130.37 169.99 L130.73 169.91 L131.09 169.83 L131.46 169.74 L131.82 169.65 L132.18 169.56 L132.54 169.47 L132.90 169.38 L133.26 169.28 L133.62 169.18 L133.99 169.08 L134.35 168.98 L134.71 168.88 L135.07 168.77 L135.43 168.66 L135.79 168.56 L136.15 168.45 L136.52 168.33 L136.88 168.22 L137.24 168.10 L137.60 167.99 L137.96 167.87 L138.32 167.75 L138.68 167.63 L139.04 167.51 L139.41 167.38 L139.77 167.26 L140.13 167.13 L140.49 167.01 L140.85 166.88 L141.21 166.75 L141.57 166.62 L141.94 166.49 L142.30 166.35 L142.66 166.22 L143.02 166.08 L143.38 165.95 L143.74 165.81 L144.10 165.67 L144.47 165.54 L144.83 165.40 L145.19 165.26 L145.55 165.12 L145.91 164.98 L146.27 164.83 L146.63 164.69 L146.99 164.55 L147.36 164.41 L147.72 164.27 L148.08 164.12 L148.44 163.98 L148.80 163.83 L149.16 163.69 L149.52 163.55 L149.89 163.40 L150.25 163.26 L150.61 163.11 L150.97 162.97 L151.33 162.83 L151.69 162.68 L152.05 162.54 L152.42 162.40 L152.78 162.25 L153.14 162.11 L153.50 161.97 L153.86 161.83 L154.22 161.68 L154.58 161.54 L154.95 161.40 L155.31 161.26 L155.67 161.12 L156.03 160.97 L156.39 160.83 L156.75 160.69 L157.11 160.55 L157.47 160.41 L157.84 160.27 L158.20 160.13 L158.56 159.99 L158.92 159.85 L159.28 159.71 L159.64 159.56 L160.00 159.42 L160.37 159.28 L160.73 159.14 L161.09 159.00 L161.45 158.86 L161.81 158.72 L162.17 158.58 L162.53 158.44 L162.90 158.30 L163.26 158.16 L163.62 158.01 L163.98 157.87 L164.34 157.73 L164.70 157.59 L165.06 157.44 L165.42 157.30 L165.79 157.16 L166.15 157.01 L166.51 156.86 L166.87 156.72 L167.23 156.57 L167.59 156.42 L167.95 156.27 L168.32 156.12 L168.68 155.96 L169.04 155.81 L169.40 155.65 L169.76 155.49 L170.12 155.33 L170.48 155.17 L170.85 155.00 L171.21 154.84 L171.57 154.67 L171.93 154.50 L172.29 154.32 L172.65 154.15 L173.01 153.97 L173.37 153.79 L173.74 153.60 L174.10 153.42 L174.46 153.23 L174.82 153.04 L175.18 152.84 L175.54 152.64 L175.90 152.44 L176.27 152.23 L176.63 152.02 L176.99 151.81 L177.35 151.60 L177.71 151.38 L178.07 151.16 L178.43 150.93 L178.80 150.70 L179.16 150.46 L179.52 150.23 L179.88 149.99 L180.24 149.74 L180.60 149.49 L180.96 149.24 L181.32 148.98 L181.69 148.71 L182.05 148.45 L182.41 148.18 L182.77 147.90 L183.13 147.62 L183.49 147.34 L183.85 147.05 L184.22 146.75 L184.58 146.45 L184.94 146.15 L185.30 145.84 L185.66 145.53 L186.02 145.21 L186.38 144.89 L186.75 144.56 L187.11 144.23 L187.47 143.89 L187.83 143.55 L188.19 143.21 L188.55 142.86 L188.91 142.50 L189.27 142.14 L189.64 141.78 L190.00 141.41 L190.36 141.03 L190.72 140.65 L191.08 140.27 L191.44 139.88 L191.80 139.49 L192.17 139.09 L192.53 138.68 L192.89 138.28 L193.25 137.86 L193.61 137.44 L193.97 137.02 L194.33 136.59 L194.70 136.16 L195.06 135.72 L195.42 135.28 L195.78 134.83 L196.14 134.38 L196.50 133.92 L196.86 133.45 L197.22 132.98 L197.59 132.51 L197.95 132.03 L198.31 131.55 L198.67 131.06 L199.03 130.57 L199.39 130.07 L199.75 129.56 L200.12 129.05 L200.48 128.54 L200.84 128.02 L201.20 127.49 L201.56 126.96 L201.92 126.42 L202.28 125.88 L202.65 125.33 L203.01 124.78 L203.37 124.22 L203.73 123.65 L204.09 123.08 L204.45 122.50 L204.81 121.91 L205.17 121.32 L205.54 120.73 L205.90 120.12 L206.26 119.51 L206.62 118.89 L206.98 118.27 L207.34 117.63 L207.70 117.00 L208.07 116.35 L208.43 115.70 L208.79 115.04 L209.15 114.37 L209.51 113.69 L209.87 113.01 L210.23 112.32 L210.60 111.62 L210.96 110.91 L211.32 110.20 L211.68 109.48 L212.04 108.74 L212.40 108.01 L212.76 107.26 L213.12 106.50 L213.49 105.74 L213.85 104.96 L214.21 104.18 L214.57 103.39 L214.93 102.59 L215.29 101.78 L215.65 100.96 L216.02 100.13 L216.38 99.29 L216.74 98.44 L217.10 97.59 L217.46 96.72 L217.82 95.84 L218.18 94.95 L218.55 94.05 L218.91 93.14 L219.27 92.22 L219.63 91.29 L219.99 90.35 L220.35 89.39 L220.71 88.43 L221.07 87.45 L221.44 86.46 L221.80 85.45 L222.16 84.44 L222.52 83.41 L222.88 82.37 L223.24 81.31 L223.60 80.24 L223.97 79.16 L224.33 78.07 L224.69 76.96 L225.05 75.84 L225.41 74.71 L225.77 73.57 L226.13 72.42 L226.50 71.27 L226.86 70.11 L227.22 68.94 L227.58 67.78 L227.94 66.61 L228.30 65.44 L228.66 64.27 L229.02 63.10 L229.39 61.93 L229.75 60.77 L230.11 59.62 L230.47 58.47 L230.83 57.33 L231.19 56.20 L231.55 55.07 L231.92 53.96 L232.28 52.86 L232.64 51.78 L233.00 50.72 L233.36 49.68 L233.72 48.65 L234.08 47.65 L234.45 46.68 L234.81 45.74 L235.17 44.82 L235.53 43.94 L235.89 43.08 L236.25 42.27 L236.61 41.49 L236.97 40.75 L237.34 40.05 L237.70 39.40 L238.06 38.77 L238.42 38.18 L238.78 37.62 L239.14 37.08 L239.50 36.56 L239.87 36.05 L240.23 35.56 L240.59 35.07 L240.95 34.58 L241.31 34.10 L241.67 33.61 L242.03 33.11 L242.40 32.60 L242.76 32.07 L243.12 31.54 L243.48 31.01 L243.84 30.47 L244.20 29.95 L244.56 29.45 L244.92 28.97 L245.29 28.51 L245.65 28.09 L246.01 27.71 L246.37 27.38 L246.73 27.10 L247.09 26.88 L247.45 26.73 L247.82 26.64 L248.18 26.62 L248.54 26.68 L248.90 26.80 L249.26 26.98 L249.62 27.24 L249.98 27.55 L250.35 27.93 L250.71 28.38 L251.07 28.88 L251.43 29.44 L251.79 30.07 L252.15 30.75 L252.51 31.49 L252.87 32.28 L253.24 33.13 L253.60 34.03 L253.96 34.98 L254.32 35.98 L254.68 37.04 L255.04 38.14 L255.40 39.29 L255.77 40.49 L256.13 41.74 L256.49 43.05 L256.85 44.41 L257.21 45.83 L257.57 47.30 L257.93 48.84 L258.30 50.44 L258.66 52.10 L259.02 53.82 L259.38 55.61 L259.74 57.47 L260.10 59.39 L260.46 61.38 L260.82 63.43 L261.19 65.53 L261.55 67.67 L261.91 69.85 L262.27 72.04 L262.63 74.26 L262.99 76.48 L263.35 78.69 L263.72 80.90 L264.08 83.09 L264.44 85.26 L264.80 87.41 L265.16 89.54 L265.52 91.65 L265.88 93.75 L266.25 95.83 L266.61 97.91 L266.97 99.97 L267.33 102.03 L267.69 104.08 L268.05 106.12 L268.41 108.17 L268.77 110.21 L269.14 112.24 L269.50 114.27 L269.86 116.28 L270.22 118.26 L270.58 120.21 L270.94 122.13 L271.30 124.01 L271.67 125.83 L272.03 127.61 L272.39 129.32 L272.75 130.96 L273.11 132.54 L273.47 134.03 L273.83 135.45 L274.20 136.77 L274.56 138.01 L274.92 139.15 L275.28 140.18 L275.64 141.11 L276.00 141.92 L276.36 142.62 L276.72 143.21 L277.09 143.69 L277.45 144.06 L277.81 144.32 L278.17 144.48 L278.53 144.54 L278.89 144.50 L279.25 144.35 L279.62 144.10 L279.98 143.74 L280.34 143.27 L280.70 142.69 L281.06 141.99 L281.42 141.19 L281.78 140.28 L282.15 139.28 L282.51 138.21 L282.87 137.09 L283.23 135.93 L283.59 134.75 L283.95 133.57 L284.31 132.41 L284.67 131.27 L285.04 130.17 L285.40 129.11 L285.76 128.09 L286.12 127.11 L286.48 126.18 L286.84 125.28 L287.20 124.43 L287.57 123.63 L287.93 122.87 L288.29 122.17 L288.65 121.52 L289.01 120.95 L289.37 120.44 L289.73 120.02 L290.10 119.68 L290.46 119.43 L290.82 119.29 L291.18 119.24 L291.54 119.31 L291.90 119.48 L292.26 119.75 L292.62 120.12 L292.99 120.58 L293.35 121.14 L293.71 121.78 L294.07 122.51 L294.43 123.33 L294.79 124.21 L295.15 125.15 L295.52 126.15 L295.88 127.19 L296.24 128.26 L296.60 129.35 L296.96 130.45 L297.32 131.56 L297.68 132.66 L298.05 133.74 L298.41 134.79 L298.77 135.80 L299.13 136.77 L299.49 137.67 L299.85 138.51 L300.21 139.28 L300.57 139.96 L300.94 140.54 L301.30 141.03 L301.66 141.41 L302.02 141.67 L302.38 141.81 L302.74 141.83 L303.10 141.70 L303.47 141.43 L303.83 141.02 L304.19 140.47 L304.55 139.79 L304.91 138.97 L305.27 138.03 L305.63 136.96 L306.00 135.79 L306.36 134.53 L306.72 133.21 L307.08 131.88 L307.44 130.54 L307.80 129.24 L308.16 128.00 L308.52 126.85 L308.89 125.79 L309.25 124.82 L309.61 123.95 L309.97 123.16 L310.33 122.46 L310.69 121.85 L311.05 121.34 L311.42 120.95 L311.78 120.71 L312.14 120.64 L312.50 120.79 L312.86 121.16 L313.22 121.76 L313.58 122.61 L313.95 123.71 L314.31 125.06 L314.67 126.65 L315.03 128.47 L315.39 130.49 L315.75 132.71 L316.11 135.08 L316.47 137.54 L316.84 140.04 L317.20 142.54 L317.56 144.98 L317.92 147.32 L318.28 149.53 L318.64 151.62 L319.00 153.58 L319.37 155.40 L319.73 157.07 L320.09 158.60 L320.45 159.96 L320.81 161.16 L321.17 162.18 L321.53 163.02 L321.90 163.66 L322.26 164.12 L322.62 164.40 L322.98 164.52 L323.34 164.48 L323.70 164.31 L324.06 164.01 L324.42 163.62 L324.79 163.13 L325.15 162.58 L325.51 161.98 L325.87 161.36 L326.23 160.75 L326.59 160.18 L326.95 159.68 L327.32 159.28 L327.68 158.99 L328.04 158.81 L328.40 158.78 L328.76 158.89 L329.12 159.15 L329.48 159.57 L329.85 160.13 L330.21 160.83 L330.57 161.67 L330.93 162.63 L331.29 163.68 L331.65 164.79 L332.01 165.92 L332.37 167.05 L332.74 168.15 L333.10 169.19 L333.46 170.15 L333.82 170.99 L334.18 171.70 L334.54 172.25 L334.90 172.65 L335.27 172.89 L335.63 173.01 L335.99 173.01 L336.35 172.90 L336.71 172.72 L337.07 172.49 L337.43 172.21 L337.80 171.93 L338.16 171.65 L338.52 171.41 L338.88 171.22 L339.24 171.12 L339.60 171.13 L339.96 171.28 L340.32 171.58 L340.69 172.06 L341.05 172.70 L341.41 173.49 L341.77 174.41 L342.13 175.43 L342.49 176.52 L342.85 177.63 L343.22 178.72 L343.58 179.76 L343.94 180.69 L344.30 181.50 L344.66 182.19 L345.02 182.74 L345.38 183.15 L345.75 183.44 L346.11 183.59 L346.47 183.64 L346.83 183.60 L347.19 183.49 L347.55 183.34 L347.91 183.18 L348.27 183.05 L348.64 182.98 L349.00 183.01 L349.36 183.13 L349.72 183.34 L350.08 183.63 L350.44 183.98 L350.80 184.39 L351.17 184.85 L351.53 185.36 L351.89 185.87 L352.25 186.37 L352.61 186.83 L352.97 187.21 L353.33 187.48 L353.70 187.65 L354.06 187.74 L354.42 187.76 L354.78 187.73 L355.14 187.66 L355.50 187.60 L355.86 187.57 L356.22 187.61 L356.59 187.72 L356.95 187.90 L357.31 188.12 L357.67 188.37 L358.03 188.63 L358.39 188.90 L358.75 189.17 L359.12 189.44 L359.48 189.69 L359.84 189.93 L360.20 190.15 L360.56 190.35 L360.92 190.53 L361.28 190.69 L361.65 190.82 L362.01 190.93 L362.37 191.00 L362.73 191.04 L363.09 191.04 L363.45 191.02 L363.81 191.03 L364.17 191.09 L364.54 191.23 L364.90 191.43 L365.26 191.66 L365.62 191.91 L365.98 192.16 L366.34 192.40 L366.70 192.61 L367.07 192.79 L367.43 192.92 L367.79 193.03 L368.15 193.11 L368.51 193.17 L368.87 193.22 L369.23 193.25 L369.60 193.29 L369.96 193.33 L370.32 193.38 L370.68 193.43 L371.04 193.48 L371.40 193.54 L371.76 193.60 L372.12 193.66 L372.49 193.73 L372.85 193.79 L373.21 193.86 L373.57 193.92 L373.93 193.98 L374.29 194.04 L374.65 194.10 L375.02 194.15 L375.38 194.20 L375.74 194.24 L376.10 194.28" stroke="#08089c" stroke-width="1.50" stroke-dasharray="5.00 2.16"/>
</g>
<g clip-path="url(#ct)">
<path d="M49.29 165.36 V182.95 M47.69 165.36 H50.89 M47.69 182.95 H50.89 M60.30 133.82 V167.24 M58.70 133.82 H61.90 M58.70 167.24 H61.90 M69.30 172.43 V183.68 M67.70 172.43 H70.90 M67.70 183.68 H70.90 M76.90 149.71 V171.69 M75.30 149.71 H78.50 M75.30 171.69 H78.50 M83.49 171.58 V181.72 M81.89 171.58 H85.09 M81.89 181.72 H85.09 M89.30 167.88 V179.61 M87.70 167.88 H90.90 M87.70 179.61 H90.90 M94.50 164.25 V177.91 M92.90 164.25 H96.10 M92.90 177.91 H96.10 M99.20 162.25 V174.92 M97.60 162.25 H100.80 M97.60 174.92 H100.80 M103.49 166.10 V176.65 M101.89 166.10 H105.09 M101.89 176.65 H105.09 M107.44 172.87 V181.25 M105.84 172.87 H109.04 M105.84 181.25 H109.04 M111.10 164.39 V174.95 M109.50 164.39 H112.70 M109.50 174.95 H112.70 M114.50 157.62 V171.17 M112.90 157.62 H116.10 M112.90 171.17 H116.10 M117.69 171.75 V180.14 M116.09 171.75 H119.29 M116.09 180.14 H119.29 M120.68 156.92 V169.88 M119.08 156.92 H122.28 M119.08 169.88 H122.28 M123.50 170.35 V178.14 M121.90 170.35 H125.10 M121.90 178.14 H125.10 M126.17 160.14 V172.81 M124.57 160.14 H127.77 M124.57 172.81 H127.77 M128.70 170.73 V177.76 M127.10 170.73 H130.30 M127.10 177.76 H130.30 M131.10 174.13 V179.99 M129.50 174.13 H132.70 M129.50 179.99 H132.70 M133.40 174.13 V179.99 M131.80 174.13 H135.00 M131.80 179.99 H135.00 M135.59 170.64 V177.09 M133.99 170.64 H137.19 M133.99 177.09 H137.19 M137.69 167.15 V174.19 M136.09 167.15 H139.29 M136.09 174.19 H139.29 M139.71 164.31 V170.87 M138.11 164.31 H141.31 M138.11 170.87 H141.31 M141.64 167.44 V173.89 M140.04 167.44 H143.24 M140.04 173.89 H143.24 M143.50 163.25 V169.70 M141.90 163.25 H145.10 M141.90 169.70 H145.10 M145.30 155.01 V168.38 M143.70 155.01 H146.90 M143.70 168.38 H146.90 M147.03 161.49 V169.47 M145.43 161.49 H148.63 M145.43 169.47 H148.63 M148.70 154.81 V169.76 M147.10 154.81 H150.30 M147.10 169.76 H150.30 M194.88 134.21 V136.43 M193.28 134.21 H196.48 M193.28 136.43 H196.48 M211.21 109.13 V111.35 M209.61 109.13 H212.81 M209.61 111.35 H212.81 M223.45 79.54 V81.77 M221.85 79.54 H225.05 M221.85 81.77 H225.05 M233.25 49.31 V52.72 M231.65 49.31 H234.85 M231.65 52.72 H234.85 M241.43 31.87 V36.33 M239.83 31.87 H243.03 M239.83 36.33 H243.03 M248.44 22.35 V27.73 M246.84 22.35 H250.04 M246.84 27.73 H250.04 M254.57 34.31 V39.20 M252.97 34.31 H256.17 M252.97 39.20 H256.17 M260.03 57.24 V61.26 M258.43 57.24 H261.63 M258.43 61.26 H261.63 M264.94 86.74 V89.80 M263.34 86.74 H266.54 M263.34 89.80 H266.54 M269.41 112.75 V115.04 M267.81 112.75 H271.01 M267.81 115.04 H271.01 M273.51 133.28 V135.51 M271.91 133.28 H275.11 M271.91 135.51 H275.11 M277.29 142.67 V144.90 M275.69 142.67 H278.89 M275.69 144.90 H278.89 M280.80 141.26 V143.49 M279.20 141.26 H282.40 M279.20 143.49 H282.40 M284.08 131.77 V134.00 M282.48 131.77 H285.68 M282.48 134.00 H285.68 M287.16 123.42 V125.65 M285.56 123.42 H288.76 M285.56 125.65 H288.76 M290.05 118.68 V120.90 M288.45 118.68 H291.65 M288.45 120.90 H291.65 M292.78 119.29 V121.52 M291.18 119.29 H294.38 M291.18 121.52 H294.38 M295.38 124.89 V127.12 M293.78 124.89 H296.98 M293.78 127.12 H296.98 M297.84 131.86 V134.09 M296.24 131.86 H299.44 M296.24 134.09 H299.44 M300.18 138.24 V140.47 M298.58 138.24 H301.78 M298.58 140.47 H301.78 M302.42 140.85 V143.08 M300.82 140.85 H304.02 M300.82 143.08 H304.02 M304.56 138.68 V140.91 M302.96 138.68 H306.16 M302.96 140.91 H306.16 M306.61 132.30 V134.53 M305.01 132.30 H308.21 M305.01 134.53 H308.21 M308.58 125.54 V127.76 M306.98 125.54 H310.18 M306.98 127.76 H310.18 M310.47 121.25 V123.47 M308.87 121.25 H312.07 M308.87 123.47 H312.07 M312.30 119.67 V121.90 M310.70 119.67 H313.90 M310.70 121.90 H313.90 M314.06 122.91 V125.14 M312.46 122.91 H315.66 M312.46 125.14 H315.66 M315.76 131.64 V133.87 M314.16 131.64 H317.36 M314.16 133.87 H317.36 M317.40 142.87 V145.10 M315.80 142.87 H319.00 M315.80 145.10 H319.00 M318.99 152.40 V154.62 M317.39 152.40 H320.59 M317.39 154.62 H320.59 M320.53 159.06 V161.29 M318.93 159.06 H322.13 M318.93 161.29 H322.13 M322.02 163.36 V164.05 M320.42 163.36 H323.62 M320.42 164.05 H323.62 M323.47 164.18 V164.86 M321.87 164.18 H325.07 M321.87 164.86 H325.07 M324.88 162.70 V163.39 M323.28 162.70 H326.48 M323.28 163.39 H326.48 M326.24 160.43 V161.15 M324.64 160.43 H327.84 M324.64 161.15 H327.84 M327.58 158.87 V159.61 M325.98 158.87 H329.18 M325.98 159.61 H329.18 M328.87 158.66 V159.39 M327.27 158.66 H330.47 M327.27 159.39 H330.47 M330.14 160.40 V161.11 M328.54 160.40 H331.74 M328.54 161.11 H331.74 M331.37 163.52 V164.17 M329.77 163.52 H332.97 M329.77 164.17 H332.97 M332.57 167.36 V167.96 M330.97 167.36 H334.17 M330.97 167.96 H334.17 M333.74 170.64 V171.19 M332.14 170.64 H335.34 M332.14 171.19 H335.34 M334.89 172.34 V172.86 M333.29 172.34 H336.49 M333.29 172.86 H336.49 M336.01 172.76 V173.28 M334.41 172.76 H337.61 M334.41 173.28 H337.61 M337.11 172.29 V172.81 M335.51 172.29 H338.71 M335.51 172.81 H338.71 M338.18 171.40 V171.93 M336.58 171.40 H339.78 M336.58 171.93 H339.78 M339.23 170.88 V171.42 M337.63 170.88 H340.83 M337.63 171.42 H340.83 M340.25 171.29 V171.82 M338.65 171.29 H341.85 M338.65 171.82 H341.85 M341.26 172.89 V173.40 M339.66 172.89 H342.86 M339.66 173.40 H342.86 M342.24 175.64 V176.10 M340.64 175.64 H343.84 M340.64 176.10 H343.84 M343.21 178.50 V178.93 M341.61 178.50 H344.81 M341.61 178.93 H344.81 M344.16 180.96 V181.36 M342.56 180.96 H345.76 M342.56 181.36 H345.76 M345.09 182.60 V182.98 M343.49 182.60 H346.69 M343.49 182.98 H346.69 M346.00 183.33 V183.70 M344.40 183.33 H347.60 M344.40 183.70 H347.60 M346.90 183.36 V183.73 M345.30 183.36 H348.50 M345.30 183.73 H348.50 M347.78 183.00 V183.37 M346.18 183.00 H349.38 M346.18 183.37 H349.38 M348.64 182.84 V183.21 M347.04 182.84 H350.24 M347.04 183.21 H350.24 M349.49 182.99 V183.35 M347.89 182.99 H351.09 M347.89 183.35 H351.09 M350.33 183.75 V184.11 M348.73 183.75 H351.93 M348.73 184.11 H351.93 M351.15 184.68 V185.03 M349.55 184.68 H352.75 M349.55 185.03 H352.75 M351.96 185.86 V186.21 M350.36 185.86 H353.56 M350.36 186.21 H353.56 M352.75 186.77 V187.13 M351.15 186.77 H354.35 M351.15 187.13 H354.35 M353.53 187.36 V187.72 M351.93 187.36 H355.13 M351.93 187.72 H355.13 M354.31 187.60 V187.95 M352.71 187.60 H355.91 M352.71 187.95 H355.91 M355.06 187.44 V187.79 M353.46 187.44 H356.66 M353.46 187.79 H356.66 M355.81 187.42 V187.77 M354.21 187.42 H357.41 M354.21 187.77 H357.41 M356.55 187.52 V187.88 M354.95 187.52 H358.15 M354.95 187.88 H358.15 M357.27 187.91 V188.27 M355.67 187.91 H358.87 M355.67 188.27 H358.87 M357.99 188.46 V188.81 M356.39 188.46 H359.59 M356.39 188.81 H359.59 M358.69 188.93 V189.29 M357.09 188.93 H360.29 M357.09 189.29 H360.29 M359.38 189.38 V189.73 M357.78 189.38 H360.98 M357.78 189.73 H360.98 M360.07 189.93 V190.28 M358.47 189.93 H361.67 M358.47 190.28 H361.67 M360.74 190.24 V190.59 M359.14 190.24 H362.34 M359.14 190.59 H362.34 M361.41 190.57 V190.92 M359.81 190.57 H363.01 M359.81 190.92 H363.01 M362.07 190.70 V191.05 M360.47 190.70 H363.67 M360.47 191.05 H363.67 M362.72 190.84 V191.20 M361.12 190.84 H364.32 M361.12 191.20 H364.32 M363.36 190.83 V191.18 M361.76 190.83 H364.96 M361.76 191.18 H364.96 M363.99 190.85 V191.20 M362.39 190.85 H365.59 M362.39 191.20 H365.59 M364.61 191.08 V191.43 M363.01 191.08 H366.21 M363.01 191.43 H366.21 M365.23 191.52 V191.87 M363.63 191.52 H366.83 M363.63 191.87 H366.83 M365.84 191.84 V192.19 M364.24 191.84 H367.44 M364.24 192.19 H367.44 M366.44 192.33 V192.68 M364.84 192.33 H368.04 M364.84 192.68 H368.04 M367.03 192.59 V192.94 M365.43 192.59 H368.63 M365.43 192.94 H368.63 M367.62 192.79 V193.14 M366.02 192.79 H369.22 M366.02 193.14 H369.22" fill="none" stroke="#8b0000" stroke-width="0.8"/>
<g fill="#8b0000">
<circle cx="49.29" cy="174.16" r="1.3"/>
<circle cx="60.30" cy="150.53" r="1.3"/>
<circle cx="69.30" cy="178.06" r="1.3"/>
<circle cx="76.90" cy="160.70" r="1.3"/>
<circle cx="83.49" cy="176.65" r="1.3"/>
<circle cx="89.30" cy="173.75" r="1.3"/>
<circle cx="94.50" cy="171.08" r="1.3"/>
<circle cx="99.20" cy="168.59" r="1.3"/>
<circle cx="103.49" cy="171.37" r="1.3"/>
<circle cx="107.44" cy="177.06" r="1.3"/>
<circle cx="111.10" cy="169.67" r="1.3"/>
<circle cx="114.50" cy="164.39" r="1.3"/>
<circle cx="117.69" cy="175.94" r="1.3"/>
<circle cx="120.68" cy="163.40" r="1.3"/>
<circle cx="123.50" cy="174.24" r="1.3"/>
<circle cx="126.17" cy="166.48" r="1.3"/>
<circle cx="128.70" cy="174.24" r="1.3"/>
<circle cx="131.10" cy="177.06" r="1.3"/>
<circle cx="133.40" cy="177.06" r="1.3"/>
<circle cx="135.59" cy="173.86" r="1.3"/>
<circle cx="137.69" cy="170.67" r="1.3"/>
<circle cx="139.71" cy="167.59" r="1.3"/>
<circle cx="141.64" cy="170.67" r="1.3"/>
<circle cx="143.50" cy="166.48" r="1.3"/>
<circle cx="145.30" cy="161.70" r="1.3"/>
<circle cx="147.03" cy="165.48" r="1.3"/>
<circle cx="148.70" cy="162.28" r="1.3"/>
<circle cx="194.88" cy="135.32" r="1.3"/>
<circle cx="211.21" cy="110.24" r="1.3"/>
<circle cx="223.45" cy="80.65" r="1.3"/>
<circle cx="233.25" cy="51.02" r="1.3"/>
<circle cx="241.43" cy="34.10" r="1.3"/>
<circle cx="248.44" cy="25.04" r="1.3"/>
<circle cx="254.57" cy="36.76" r="1.3"/>
<circle cx="260.03" cy="59.25" r="1.3"/>
<circle cx="264.94" cy="88.27" r="1.3"/>
<circle cx="269.41" cy="113.89" r="1.3"/>
<circle cx="273.51" cy="134.40" r="1.3"/>
<circle cx="277.29" cy="143.79" r="1.3"/>
<circle cx="280.80" cy="142.38" r="1.3"/>
<circle cx="284.08" cy="132.88" r="1.3"/>
<circle cx="287.16" cy="124.53" r="1.3"/>
<circle cx="290.05" cy="119.79" r="1.3"/>
<circle cx="292.78" cy="120.41" r="1.3"/>
<circle cx="295.38" cy="126.00" r="1.3"/>
<circle cx="297.84" cy="132.98" r="1.3"/>
<circle cx="300.18" cy="139.35" r="1.3"/>
<circle cx="302.42" cy="141.96" r="1.3"/>
<circle cx="304.56" cy="139.79" r="1.3"/>
<circle cx="306.61" cy="133.41" r="1.3"/>
<circle cx="308.58" cy="126.65" r="1.3"/>
<circle cx="310.47" cy="122.36" r="1.3"/>
<circle cx="312.30" cy="120.79" r="1.3"/>
<circle cx="314.06" cy="124.02" r="1.3"/>
<circle cx="315.76" cy="132.76" r="1.3"/>
<circle cx="317.40" cy="143.99" r="1.3"/>
<circle cx="318.99" cy="153.51" r="1.3"/>
<circle cx="320.53" cy="160.17" r="1.3"/>
<circle cx="322.02" cy="163.70" r="1.3"/>
<circle cx="323.47" cy="164.52" r="1.3"/>
<circle cx="324.88" cy="163.04" r="1.3"/>
<circle cx="326.24" cy="160.79" r="1.3"/>
<circle cx="327.58" cy="159.24" r="1.3"/>
<circle cx="328.87" cy="159.02" r="1.3"/>
<circle cx="330.14" cy="160.75" r="1.3"/>
<circle cx="331.37" cy="163.84" r="1.3"/>
<circle cx="332.57" cy="167.66" r="1.3"/>
<circle cx="333.74" cy="170.91" r="1.3"/>
<circle cx="334.89" cy="172.60" r="1.3"/>
<circle cx="336.01" cy="173.02" r="1.3"/>
<circle cx="337.11" cy="172.55" r="1.3"/>
<circle cx="338.18" cy="171.67" r="1.3"/>
<circle cx="339.23" cy="171.15" r="1.3"/>
<circle cx="340.25" cy="171.55" r="1.3"/>
<circle cx="341.26" cy="173.14" r="1.3"/>
<circle cx="342.24" cy="175.87" r="1.3"/>
<circle cx="343.21" cy="178.72" r="1.3"/>
<circle cx="344.16" cy="181.16" r="1.3"/>
<circle cx="345.09" cy="182.79" r="1.3"/>
<circle cx="346.00" cy="183.52" r="1.3"/>
<circle cx="346.90" cy="183.54" r="1.3"/>
<circle cx="347.78" cy="183.19" r="1.3"/>
<circle cx="348.64" cy="183.02" r="1.3"/>
<circle cx="349.49" cy="183.17" r="1.3"/>
<circle cx="350.33" cy="183.93" r="1.3"/>
<circle cx="351.15" cy="184.85" r="1.3"/>
<circle cx="351.96" cy="186.04" r="1.3"/>
<circle cx="352.75" cy="186.95" r="1.3"/>
<circle cx="353.53" cy="187.54" r="1.3"/>
<circle cx="354.31" cy="187.77" r="1.3"/>
<circle cx="355.06" cy="187.62" r="1.3"/>
<circle cx="355.81" cy="187.59" r="1.3"/>
<circle cx="356.55" cy="187.70" r="1.3"/>
<circle cx="357.27" cy="188.09" r="1.3"/>
<circle cx="357.99" cy="188.64" r="1.3"/>
<circle cx="358.69" cy="189.11" r="1.3"/>
<circle cx="359.38" cy="189.56" r="1.3"/>
<circle cx="360.07" cy="190.11" r="1.3"/>
<circle cx="360.74" cy="190.42" r="1.3"/>
<circle cx="361.41" cy="190.75" r="1.3"/>
<circle cx="362.07" cy="190.88" r="1.3"/>
<circle cx="362.72" cy="191.02" r="1.3"/>
<circle cx="363.36" cy="191.00" r="1.3"/>
<circle cx="363.99" cy="191.03" r="1.3"/>
<circle cx="364.61" cy="191.26" r="1.3"/>
<circle cx="365.23" cy="191.69" r="1.3"/>
<circle cx="365.84" cy="192.02" r="1.3"/>
<circle cx="366.44" cy="192.51" r="1.3"/>
<circle cx="367.03" cy="192.76" r="1.3"/>
<circle cx="367.62" cy="192.96" r="1.3"/>
</g></g>
<path d="M94.50 4.45 v2.30 M94.50 195.00 v-2.30 M94.50 201.10 v2.30 M94.50 264.35 v-2.30 M208.10 4.45 v2.30 M208.10 195.00 v-2.30 M208.10 201.10 v2.30 M208.10 264.35 v-2.30 M321.70 4.45 v2.30 M321.70 195.00 v-2.30 M321.70 201.10 v2.30 M321.70 264.35 v-2.30 M42.40 165.68 h2.30 M376.10 165.68 h-2.30 M42.40 136.37 h2.30 M376.10 136.37 h-2.30 M42.40 107.05 h2.30 M376.10 107.05 h-2.30 M42.40 77.74 h2.30 M376.10 77.74 h-2.30 M42.40 48.42 h2.30 M376.10 48.42 h-2.30 M42.40 19.11 h2.30 M376.10 19.11 h-2.30 M42.40 258.25 h2.30 M376.10 258.25 h-2.30 M42.40 232.85 h2.30 M376.10 232.85 h-2.30 M42.40 207.45 h2.30 M376.10 207.45 h-2.30" fill="none" stroke="#000" stroke-width="0.6"/>
<path d="M49.29 195.00 v1.40 M49.29 264.35 v1.40 M60.30 195.00 v1.40 M60.30 264.35 v1.40 M69.30 195.00 v1.40 M69.30 264.35 v1.40 M76.90 195.00 v1.40 M76.90 264.35 v1.40 M83.49 195.00 v1.40 M83.49 264.35 v1.40 M89.30 195.00 v1.40 M89.30 264.35 v1.40 M128.70 195.00 v1.40 M128.70 264.35 v1.40 M148.70 195.00 v1.40 M148.70 264.35 v1.40 M162.89 195.00 v1.40 M162.89 264.35 v1.40 M173.90 195.00 v1.40 M173.90 264.35 v1.40 M182.90 195.00 v1.40 M182.90 264.35 v1.40 M190.50 195.00 v1.40 M190.50 264.35 v1.40 M197.09 195.00 v1.40 M197.09 264.35 v1.40 M202.90 195.00 v1.40 M202.90 264.35 v1.40 M242.30 195.00 v1.40 M242.30 264.35 v1.40 M262.30 195.00 v1.40 M262.30 264.35 v1.40 M276.49 195.00 v1.40 M276.49 264.35 v1.40 M287.50 195.00 v1.40 M287.50 264.35 v1.40 M296.50 195.00 v1.40 M296.50 264.35 v1.40 M304.10 195.00 v1.40 M304.10 264.35 v1.40 M310.69 195.00 v1.40 M310.69 264.35 v1.40 M316.50 195.00 v1.40 M316.50 264.35 v1.40 M355.90 195.00 v1.40 M355.90 264.35 v1.40 M375.90 195.00 v1.40 M375.90 264.35 v1.40" fill="none" stroke="#000" stroke-width="0.5"/>
<rect x="42.40" y="4.45" width="333.70" height="190.55" fill="none" stroke="#000" stroke-width="0.9"/>
<rect x="42.40" y="201.10" width="333.70" height="63.25" fill="none" stroke="#000" stroke-width="0.9"/>
<text transform="translate(40.40 169.08) scale(1.130 1)" font-size="8.20" text-anchor="end">1000</text>
<text transform="translate(40.40 139.77) scale(1.130 1)" font-size="8.20" text-anchor="end">2000</text>
<text transform="translate(40.40 110.45) scale(1.130 1)" font-size="8.20" text-anchor="end">3000</text>
<text transform="translate(40.40 81.14) scale(1.130 1)" font-size="8.20" text-anchor="end">4000</text>
<text transform="translate(40.40 51.82) scale(1.130 1)" font-size="8.20" text-anchor="end">5000</text>
<text transform="translate(40.40 22.51) scale(1.130 1)" font-size="8.20" text-anchor="end">6000</text>
<text transform="translate(40.40 261.65) scale(1.130 1)" font-size="8.20" text-anchor="end">−200</text>
<text transform="translate(40.40 236.25) scale(1.130 1)" font-size="8.20" text-anchor="end">0</text>
<text transform="translate(40.40 210.85) scale(1.130 1)" font-size="8.20" text-anchor="end">200</text>
<text transform="translate(97.40 272.80) scale(1.130 1)" font-size="8.40" text-anchor="end">10</text>
<text transform="translate(98.00 269.70) scale(0.980 1)" font-size="5.70" text-anchor="start">1</text>
<text transform="translate(211.00 272.80) scale(1.130 1)" font-size="8.40" text-anchor="end">10</text>
<text transform="translate(211.60 269.70) scale(0.980 1)" font-size="5.70" text-anchor="start">2</text>
<text transform="translate(324.60 272.80) scale(1.130 1)" font-size="8.40" text-anchor="end">10</text>
<text transform="translate(325.20 269.70) scale(0.980 1)" font-size="5.70" text-anchor="start">3</text>
<text transform="translate(182.60 285.55) scale(1.150 1)" font-size="10.00" text-anchor="start">Multipole</text>
<text transform="translate(231.00 285.55) scale(1.000 1)" font-size="10.80" text-anchor="start" font-style="italic" font-weight="bold">ℓ</text>
<g transform="translate(13.3 124.5) rotate(-90)">
<text transform="translate(0.00 0.00) scale(1.080 1)" font-size="10.00" text-anchor="start" font-style="italic">D</text>
<text transform="translate(7.70 3.20) scale(0.750 1)" font-size="9.60" text-anchor="start" font-style="italic">ℓ</text>
<text transform="translate(8.60 -4.00) scale(1.200 1)" font-size="7.60" text-anchor="start" font-style="italic">TT</text>
<text transform="translate(22.60 0.00) scale(1.200 1)" font-size="10.00" text-anchor="start">[</text>
<text transform="translate(27.20 0.00) scale(1.080 1)" font-size="10.00" text-anchor="start" font-style="italic">μ</text>
<text transform="translate(33.60 0.00) scale(1.150 1)" font-size="10.00" text-anchor="start" font-style="italic">K</text>
<text transform="translate(41.00 -4.00) scale(1.100 1)" font-size="7.20" text-anchor="start">2</text>
<text transform="translate(46.90 0.00) scale(1.200 1)" font-size="10.00" text-anchor="start">]</text>
</g>
<g transform="translate(13.3 241.6) rotate(-90)">
<text transform="translate(0.00 0.00) scale(1.050 1)" font-size="10.00" text-anchor="start">Δ</text>
<text transform="translate(6.90 0.00) scale(1.060 1)" font-size="10.00" text-anchor="start" font-style="italic">D</text>
<text transform="translate(13.60 3.20) scale(0.750 1)" font-size="9.60" text-anchor="start" font-style="italic">ℓ</text>
</g>
<path d="M63.00 28.70 H83.30" fill="none" stroke="#000" stroke-width="1.50" stroke-dasharray="8.64 2.16 1.35 2.16"/>
<path d="M63.00 43.80 H83.30" fill="none" stroke="#08089c" stroke-width="1.50" stroke-dasharray="5.00 2.16"/>
<path d="M73.15 53.50 V63.90 M71.55 53.50 H74.75 M71.55 63.90 H74.75" fill="none" stroke="#8b0000" stroke-width="0.8"/>
<circle cx="73.15" cy="58.70" r="1.25" fill="#8b0000"/>
<text transform="translate(91.20 33.10) scale(1.138 1)" font-size="10.10" text-anchor="start">Best-fit</text>
<text transform="translate(131.00 33.10) scale(1.045 1)" font-size="10.10" text-anchor="start">ΛCDM</text>
<text transform="translate(91.20 48.00) scale(1.138 1)" font-size="10.10" text-anchor="start">Best-fit</text>
<text transform="translate(131.50 48.00) scale(1.006 1)" font-size="10.10" text-anchor="start">NASH</text>
<text transform="translate(91.20 63.20) scale(1.080 1)" font-size="10.10" text-anchor="start">Planck</text>
<text transform="translate(127.40 63.20) scale(1.135 1)" font-size="10.10" text-anchor="start">2018</text>
</svg></body></html>
